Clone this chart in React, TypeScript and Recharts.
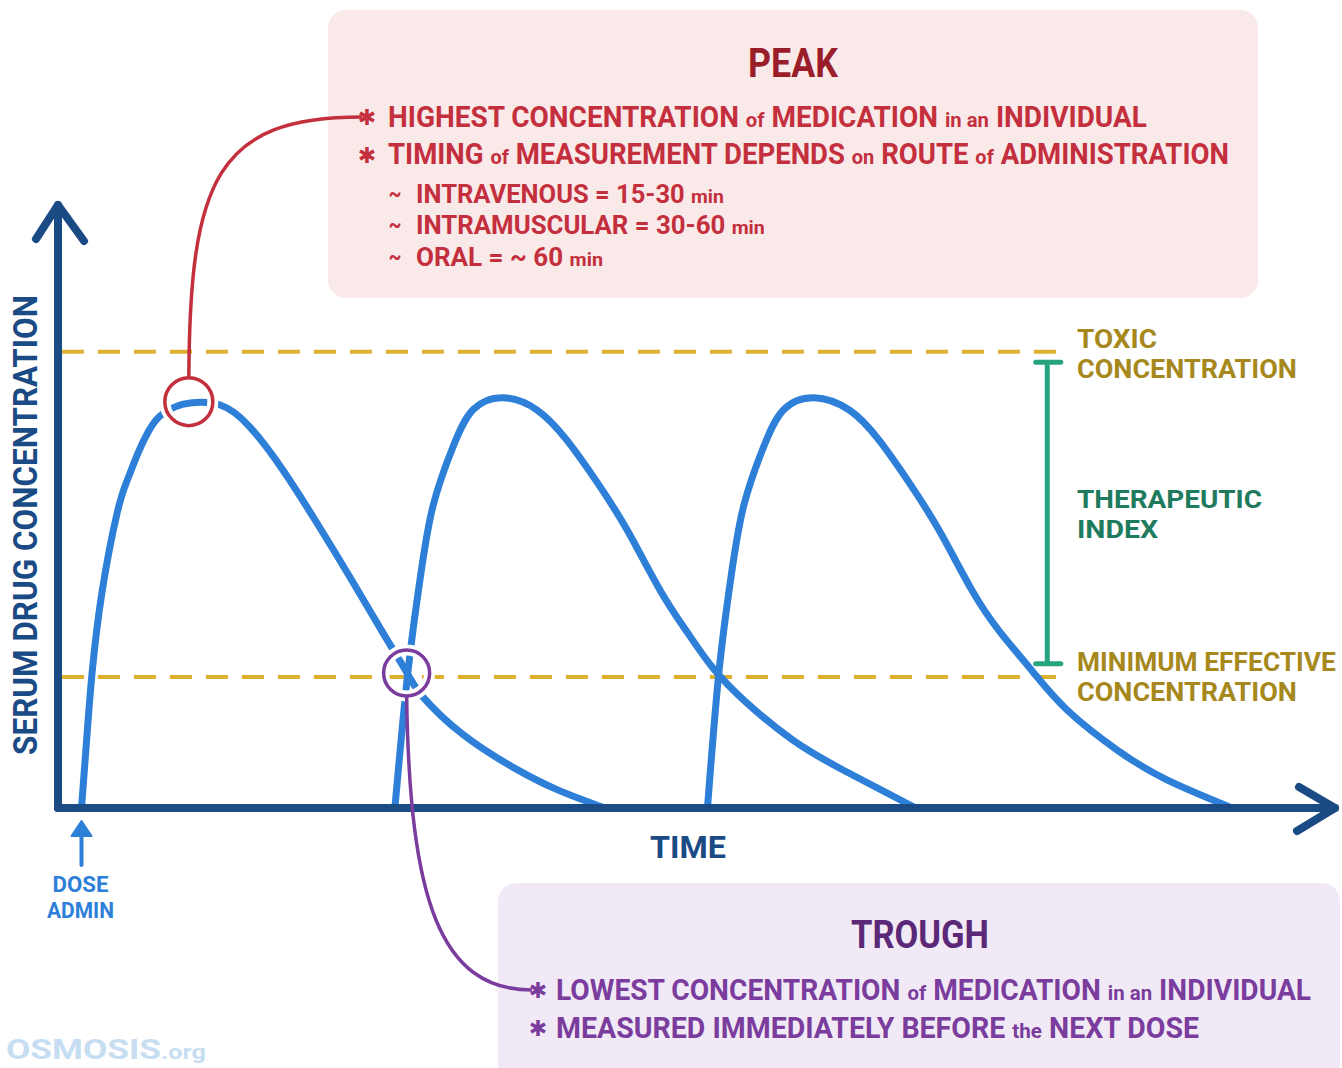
import React from 'react';
import { LineChart, Line, XAxis, YAxis, ReferenceLine, ReferenceDot, ReferenceArea } from 'recharts';

// hours after first dose / serum concentration
const dose1Time = [0, 0.14, 0.27, 0.52, 0.91, 1.16, 1.42, 1.7, 2.0, 2.39, 2.77, 3.54, 4.3, 5.14, 6.01, 6.85, 7.7, 8.31, 8.72, 9.74, 11.02, 12.14, 13.36];
const dose1Conc = [0, 2.78, 5.15, 8.2, 11.25, 12.47, 13.46, 14.34, 14.95, 15.3, 15.45, 15.37, 14.53, 12.89, 10.87, 8.81, 6.67, 5.15, 4.23, 2.8, 1.55, 0.7, 0];

const dose2Time = [8.0, 8.33, 8.64, 8.97, 9.49, 10.0, 10.76, 11.63, 12.39, 13.16, 13.93, 14.77, 15.46, 16.12, 16.99, 18.16, 19.44, 21.3];
const dose2Conc = [0, 5.15, 8.7, 11.5, 13.8, 15.2, 15.65, 15.18, 14.03, 12.43, 10.6, 8.31, 6.71, 5.34, 4.0, 2.59, 1.45, 0];

const dose3Time = [15.98, 16.27, 16.57, 16.9, 17.42, 17.93, 18.7, 19.6, 20.36, 21.12, 21.89, 22.73, 23.45, 24.29, 25.16, 26.44, 27.71, 29.37];
const dose3Conc = [0, 5.15, 8.7, 11.5, 13.8, 15.2, 15.65, 15.18, 14.03, 12.43, 10.6, 8.31, 6.71, 5.19, 3.74, 2.21, 1.07, 0];

const TOXIC = 17.4;
const MEC = 5.0;
const peakPoint = { t: 2.74, c: 15.5 };
const troughPoint = { t: 8.3, c: 5.15 };
const bracket = { t1: 24.36, t2: 25.0, low: 5.5, high: 17.0 };

const xDomain = [-0.6, 32];
const yDomain = [0, 23];

const toRows = (ts: number[], cs: number[]) => ts.map((t, i) => ({ t, c: cs[i] }));
const curves = [toRows(dose1Time, dose1Conc), toRows(dose2Time, dose2Conc), toRows(dose3Time, dose3Conc)];

const NAVY = '#1b4b85';
const BLUE = '#2e7fd8';
const GOLD = '#deb030';
const GOLD_TEXT = '#a6881d';
const TEAL = '#27a47f';
const TEAL_TEXT = '#1e7b5e';
const RED = '#c42f3d';
const RED_DARK = '#9a1d2a';
const PURPLE = '#7a3c9d';
const PURPLE_DARK = '#5b2878';
const FONT = "Roboto, 'DejaVu Sans', sans-serif";

let ctx: CanvasRenderingContext2D | null = null;
const measure = (s: string, size: number) => {
  if (!ctx) ctx = document.createElement('canvas').getContext('2d');
  if (!ctx) return s.length * size * 0.6;
  ctx.font = `700 ${size}px ${FONT}`;
  return ctx.measureText(s).width;
};

// text squeezed horizontally to the width it takes in the picture
const Txt = ({ x, y, w, size, color, anchor = 'start', parts }: any) => {
  const segs: [string, number][] = typeof parts === 'string' ? [[parts, size]] : parts;
  const natural = segs.reduce((a, [s, fs]) => a + measure(s, fs), 0);
  const sx = natural > 0 ? w / natural : 1;
  return (
    <g transform={`translate(${x},${y}) scale(${sx.toFixed(4)},1)`}>
      <text x={0} y={0} fontSize={size} fill={color} fontFamily={FONT} fontWeight={700} textAnchor={anchor} style={{ whiteSpace: 'pre' }}>
        {segs.map(([s, fs], i) => (
          <tspan key={i} fontSize={fs}>{s}</tspan>
        ))}
      </text>
    </g>
  );
};

const Star = ({ x, y, color }: any) => (
  <text x={x} y={y} fontSize={22} fill={color} fontFamily="'DejaVu Sans', sans-serif" fontWeight={700} textAnchor="middle">
    ✱
  </text>
);

const PeakMarker = (props: any) => {
  const { cx, cy } = props;
  const r = 24;
  return (
    <g>
      <circle cx={cx} cy={cy} r={r} fill="none" stroke="#fff" strokeWidth={11} />
      <circle cx={cx} cy={cy} r={r} fill="none" stroke={RED} strokeWidth={3.5} />
      <path d={`M${cx},${cy - r} C${cx + 1},180 ${cx + 28},117 362,117`} fill="none" stroke={RED} strokeWidth={3.5} />
    </g>
  );
};

const TroughMarker = (props: any) => {
  const { cx, cy } = props;
  const r = 23;
  return (
    <g>
      <circle cx={cx} cy={cy} r={r} fill="none" stroke="#fff" strokeWidth={11} />
      <circle cx={cx} cy={cy} r={r} fill="none" stroke={PURPLE} strokeWidth={3.5} />
      <path d={`M${cx},${cy + r} C${cx + 3},900 ${cx + 33},990 532,990`} fill="none" stroke={PURPLE} strokeWidth={3.5} />
    </g>
  );
};

const DoseArrow = (props: any) => {
  const { cx, cy } = props;
  return (
    <g>
      <line x1={cx} y1={cy + 57} x2={cx} y2={cy + 24} stroke={BLUE} strokeWidth={4} strokeLinecap="round" />
      <path d={`M${cx - 10},${cy + 28} L${cx},${cy + 13} L${cx + 10},${cy + 28} Z`} fill={BLUE} stroke={BLUE} strokeWidth={2} strokeLinejoin="round" />
      <Txt x={cx - 1} y={cy + 84} w={56} size={22} color={BLUE} anchor="middle" parts="DOSE" />
      <Txt x={cx - 1} y={cy + 110} w={67} size={22} color={BLUE} anchor="middle" parts="ADMIN" />
    </g>
  );
};

const UpArrow = (props: any) => {
  const { cx, cy } = props;
  return (
    <path d={`M${cx - 22},${cy + 34} L${cx},${cy} L${cx + 26},${cy + 36}`} fill="none" stroke={NAVY} strokeWidth={8} strokeLinecap="round" strokeLinejoin="round" />
  );
};

const RightArrow = (props: any) => {
  const { cx, cy } = props;
  return (
    <path d={`M${cx - 36},${cy - 21} L${cx},${cy} L${cx - 38},${cy + 23}`} fill="none" stroke={NAVY} strokeWidth={8} strokeLinecap="round" strokeLinejoin="round" />
  );
};

const Bracket = (props: any) => {
  const { x, y, width, height } = props;
  const mid = x + width / 2 - 1;
  return (
    <g stroke={TEAL} strokeWidth={5} strokeLinecap="round">
      <line x1={mid} y1={y} x2={mid} y2={y + height} />
      <line x1={x} y1={y} x2={x + width} y2={y} />
      <line x1={x} y1={y + height} x2={x + width} y2={y + height} />
    </g>
  );
};

const S1 = 21; // lowercase filler words
const S2 = 19;

export default function App() {
  return (
    <div style={{ position: 'absolute', left: 0, top: 0, width: 1342, height: 1068, overflow: 'hidden', background: '#fff' }}>
      <div style={{ position: 'absolute', left: 328, top: 10, width: 930, height: 288, borderRadius: 18, background: '#fae9e9' }} />
      <div style={{ position: 'absolute', left: 498, top: 883, width: 842, height: 230, borderRadius: 18, background: '#f1eaf6' }} />
      <div style={{ position: 'absolute', left: 0, top: 0 }}>
        <LineChart width={1342} height={1068} margin={{ top: 205, right: 7, bottom: 230, left: 0 }}>
          <XAxis
            type="number"
            dataKey="t"
            domain={xDomain}
            allowDataOverflow
            tick={false}
            tickLine={false}
            height={30}
            axisLine={{ stroke: NAVY, strokeWidth: 8, strokeLinecap: 'round' }}
          />
          <YAxis
            type="number"
            dataKey="c"
            domain={yDomain}
            allowDataOverflow
            tick={false}
            tickLine={false}
            width={58}
            axisLine={{ stroke: NAVY, strokeWidth: 8, strokeLinecap: 'round' }}
          />
          <ReferenceLine segment={[{ x: -0.5, y: TOXIC }, { x: 25, y: TOXIC }]} stroke={GOLD} strokeWidth={4} strokeDasharray="22 14" />
          <ReferenceLine segment={[{ x: -0.5, y: MEC }, { x: 25, y: MEC }]} stroke={GOLD} strokeWidth={4} strokeDasharray="22 14" />
          <ReferenceArea x1={bracket.t1} x2={bracket.t2} y1={bracket.low} y2={bracket.high} shape={<Bracket />} ifOverflow="visible" />
          {[2, 1, 0].map((i) => (
            <Line
              key={i}
              data={curves[i]}
              dataKey="c"
              type="natural"
              stroke={BLUE}
              strokeWidth={7}
              strokeLinecap="round"
              dot={false}
              activeDot={false}
              isAnimationActive={false}
            />
          ))}
          <ReferenceDot x={xDomain[0]} y={yDomain[1]} r={1} shape={<UpArrow />} ifOverflow="visible" />
          <ReferenceDot x={xDomain[1]} y={0} r={1} shape={<RightArrow />} ifOverflow="visible" />
          <ReferenceDot x={0} y={0} r={1} shape={<DoseArrow />} ifOverflow="visible" />
          <ReferenceDot x={peakPoint.t} y={peakPoint.c} r={24} shape={<PeakMarker />} ifOverflow="visible" />
          <ReferenceDot x={troughPoint.t} y={troughPoint.c} r={23} shape={<TroughMarker />} ifOverflow="visible" />

          {/* axis titles */}
          <g transform="rotate(-90 37 525)">
            <Txt x={37} y={525} w={460} size={33} color={NAVY} anchor="middle" parts="SERUM DRUG CONCENTRATION" />
          </g>
          <Txt x={688} y={858} w={76} size={32} color={NAVY} anchor="middle" parts="TIME" />

          {/* peak box text */}
          <Txt x={793} y={77} w={90} size={41} color={RED_DARK} anchor="middle" parts="PEAK" />
          <Star x={367} y={125} color={RED} />
          <Txt
            x={388} y={127} w={760} size={29} color={RED}
            parts={[['HIGHEST CONCENTRATION ', 29], ['of', S1], [' MEDICATION ', 29], ['in an', S1], [' INDIVIDUAL', 29]]}
          />
          <Star x={367} y={163} color={RED} />
          <Txt
            x={388} y={164} w={842} size={29} color={RED}
            parts={[['TIMING ', 29], ['of', S1], [' MEASUREMENT DEPENDS ', 29], ['on', S1], [' ROUTE ', 29], ['of', S1], [' ADMINISTRATION', 29]]}
          />
          <Txt x={395} y={201} w={13} size={22} color={RED} anchor="middle" parts="~" />
          <Txt x={416} y={203} w={308} size={25} color={RED} parts={[['INTRAVENOUS = 15-30 ', 25], ['min', S2]]} />
          <Txt x={395} y={232} w={13} size={22} color={RED} anchor="middle" parts="~" />
          <Txt x={416} y={234} w={349} size={25} color={RED} parts={[['INTRAMUSCULAR = 30-60 ', 25], ['min', S2]]} />
          <Txt x={395} y={264} w={13} size={22} color={RED} anchor="middle" parts="~" />
          <Txt x={416} y={266} w={187} size={25} color={RED} parts={[['ORAL = ~ 60 ', 25], ['min', S2]]} />

          {/* threshold labels */}
          <Txt x={1077} y={348} w={80} size={25.5} color={GOLD_TEXT} parts="TOXIC" />
          <Txt x={1077} y={378} w={220} size={25.5} color={GOLD_TEXT} parts="CONCENTRATION" />
          <Txt x={1077} y={508} w={185} size={25.5} color={TEAL_TEXT} parts="THERAPEUTIC" />
          <Txt x={1077} y={538} w={81} size={25.5} color={TEAL_TEXT} parts="INDEX" />
          <Txt x={1077} y={671} w={259} size={25.5} color={GOLD_TEXT} parts="MINIMUM EFFECTIVE" />
          <Txt x={1077} y={701} w={220} size={25.5} color={GOLD_TEXT} parts="CONCENTRATION" />

          {/* trough box text */}
          <Txt x={920} y={948} w={138} size={39} color={PURPLE_DARK} anchor="middle" parts="TROUGH" />
          <Star x={538} y={998} color={PURPLE} />
          <Txt
            x={556} y={1000} w={756} size={29} color={PURPLE}
            parts={[['LOWEST CONCENTRATION ', 29], ['of', S1], [' MEDICATION ', 29], ['in an', S1], [' INDIVIDUAL', 29]]}
          />
          <Star x={538} y={1036} color={PURPLE} />
          <Txt
            x={556} y={1038} w={644} size={29} color={PURPLE}
            parts={[['MEASURED IMMEDIATELY BEFORE ', 29], ['the', S1], [' NEXT DOSE', 29]]}
          />

          {/* watermark */}
          <Txt x={6} y={1059} w={200} size={28} color="#c6ddf2" parts={[['OSMOSIS', 28], ['.org', 20]]} />
        </LineChart>
      </div>
    </div>
  );
}
